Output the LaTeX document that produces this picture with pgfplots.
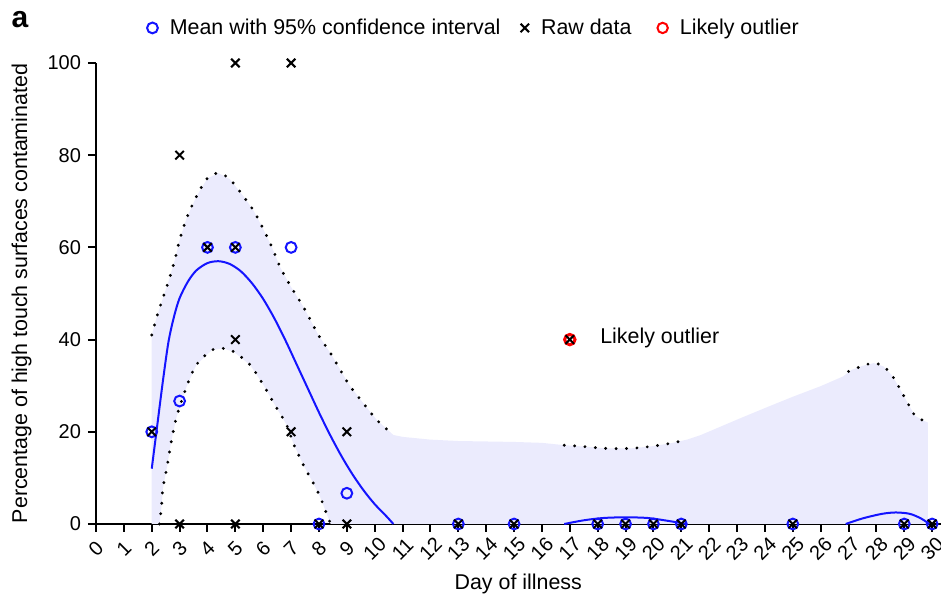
\documentclass[border=0pt]{standalone}
\usepackage{fontspec}
\setmainfont{Liberation Sans}
\usepackage{pgfplots}
\pgfplotsset{compat=1.18}
\definecolor{bandfill}{RGB}{235,235,253}
\definecolor{mblue}{RGB}{20,20,255}
\tikzset{dotbound/.style={black, line width=1.6pt, line cap=round, dash pattern=on 0pt off 5.2pt}}
\begin{document}
\begin{tikzpicture}
\begin{axis}[
 scale only axis, width=422.25pt, height=230.5pt,
 xmin=0, xmax=30.3, ymin=0, ymax=100,
 axis lines=left, axis line style={-, line width=1.4pt, black},
 xtick={0,...,30}, ytick={0,20,...,100},
 tick align=outside, major tick length=4pt,
 tick style={line width=1pt, black},
 /pgf/number format/assume math mode=true,
 tick label style={font=\fontsize{10}{11}\selectfont},
 xticklabel style={anchor=center, yshift=-8.5pt, rotate=45},
 xlabel={Day of illness},
 ylabel={Percentage of high touch surfaces contaminated},
 label style={font=\fontsize{10.7}{12}\selectfont},
 xlabel style={at={(axis description cs:0.5,-0.13)}, anchor=center},
 ylabel style={at={(axis description cs:-0.088,0.5)}, anchor=center},
 clip=false,
 legend style={at={(axis description cs:0.06,1.076)}, anchor=west, draw=none, fill=none, inner sep=0pt,
   font=\fontsize{10.7}{12}\selectfont, legend columns=-1,
   /tikz/every odd column/.append style={column sep=4pt},
   /tikz/every even column/.append style={column sep=8pt}},
 legend image code/.code={\draw[#1] plot coordinates {(0.15cm,0cm)};},
]
% confidence band fill
\addplot[draw=none, fill=bandfill, forget plot] coordinates {
 (2.0,41) (2.2,45.3) (2.4,49) (2.6,52.6) (2.83,57.3) (3.0,61.6) (3.25,66.3) (3.6,71) (4.0,75) (4.4,76.1)
 (4.8,74.8) (5.3,71) (5.65,68) (5.95,64.6) (6.3,60.2) (6.6,55.8) (6.96,51.8) (7.44,47.1) (7.98,41)
 (8.45,36.7) (9.05,30.5) (9.59,26.2) (10.07,22.6) (10.67,19.3) (11,18.9) (12,18.3) (13,18) (14,17.9)
 (15,17.8) (16,17.6) (16.8,17.1) (17.5,16.8) (18.3,16.4) (19.2,16.4) (20,16.9) (20.7,17.6) (21.2,18.3)
 (21.7,19.3) (22.4,21.1) (23.1,22.9) (24.1,25.4) (25,27.6) (26,29.9) (26.8,32) (27.1,33.4) (27.5,34.3)
 (27.9,34.9) (28.25,34.2) (28.55,32.3) (28.8,29.8) (29,27.6) (29.2,25.4) (29.4,23.4) (29.7,22.4) (29.85,22)
 (29.85,0) (8.42,0) (8.27,2.3) (8.04,5.9) (7.74,9.5) (7.44,12.8) (7.08,17.5) (6.84,21.5) (6.42,25.8)
 (6.0,30.2) (5.53,34.5) (4.93,37.4) (4.55,38.1) (4.15,37.7) (3.6,34.5) (3.25,29.8) (2.89,23.2) (2.71,18.2)
 (2.56,12.8) (2.4,7.7) (2.35,3.8) (2.28,0) (2.0,0)
};
% upper bound (dotted, visible parts)
\addplot[dotbound, smooth, forget plot] coordinates {
 (2.0,41) (2.2,45.3) (2.4,49) (2.6,52.6) (2.83,57.3) (3.0,61.6) (3.25,66.3) (3.6,71) (4.0,75) (4.4,76.1)
 (4.8,74.8) (5.3,71) (5.65,68) (5.95,64.6) (6.3,60.2) (6.6,55.8) (6.96,51.8) (7.44,47.1) (7.98,41)
 (8.45,36.7) (9.05,30.5) (9.59,26.2) (10.07,22.6) (10.67,19.3)
};
\addplot[dotbound, smooth, forget plot] coordinates {
 (16.8,17.1) (17.5,16.8) (18.3,16.4) (19.2,16.4) (20,16.9) (20.7,17.6) (21.2,18.3)
};
\addplot[dotbound, smooth, forget plot] coordinates {
 (27.0,33.1) (27.5,34.3) (27.9,34.9) (28.25,34.2) (28.55,32.3) (28.8,29.8) (29,27.6) (29.2,25.4) (29.4,23.4) (29.7,22.4)
};
% lower bound
\addplot[dotbound, smooth, forget plot] coordinates {
 (2.28,0) (2.35,3.8) (2.4,7.7) (2.56,12.8) (2.71,18.2) (2.89,23.2) (3.25,29.8) (3.6,34.5) (4.15,37.7)
 (4.55,38.1) (4.93,37.4) (5.53,34.5) (6.0,30.2) (6.42,25.8) (6.84,21.5) (7.08,17.5) (7.44,12.8)
 (7.74,9.5) (8.04,5.9) (8.27,2.3) (8.42,0)
};
% fitted curve
\addplot[mblue, line width=1pt, smooth, forget plot] coordinates {
 (2.0,12) (2.2,21.5) (2.4,31) (2.6,39.5) (2.8,45) (3.0,49) (3.3,52.6) (3.6,55) (4.0,56.6) (4.4,57)
 (4.8,56.4) (5.2,54.8) (5.6,52.2) (6.0,48.8) (6.4,44.6) (6.8,39.8) (7.2,34.6) (7.6,29.4) (8.0,24.2)
 (8.4,19.3) (8.8,14.8) (9.2,10.8) (9.6,7.3) (10.0,4.3) (10.4,1.8) (10.67,0)
};
\addplot[mblue, line width=1pt, smooth, forget plot] coordinates {
 (16.8,0) (17.5,0.8) (18.2,1.3) (19,1.45) (19.8,1.3) (20.5,0.7) (21.2,0)
};
\addplot[mblue, line width=1pt, smooth, forget plot] coordinates {
 (26.9,0) (27.5,1.2) (28.2,2.2) (28.7,2.5) (29.2,2.2) (29.6,1.2) (29.9,0)
};
% means
\addplot[only marks, mark=o, mark size=2.7pt, mblue, line width=1pt] coordinates {
 (2,20) (3,26.67) (4,60) (5,60) (7,60) (8,0) (9,6.67) (13,0) (15,0) (18,0) (19,0) (20,0) (21,0) (25,0) (29,0) (30,0)
};
\addlegendentry{Mean with 95\% confidence interval}
% outlier circle
\addplot[only marks, mark=o, mark size=2.6pt, red, line width=1.5pt, forget plot] coordinates {(17,40)};
% raw data
\addplot[only marks, mark=x, mark size=3pt, black, line width=1pt] coordinates {
 (2,20) (3,80) (3,0) (4,60) (5,100) (5,60) (5,40) (5,0) (7,100) (7,20) (8,0) (9,20) (9,0)
 (13,0) (15,0) (17,40) (18,0) (19,0) (20,0) (21,0) (25,0) (29,0) (30,0)
};
\addlegendentry{Raw data\kern3pt}
\addlegendimage{only marks, mark=o, mark size=2.6pt, red, line width=1pt}
\addlegendentry{Likely outlier}
\node[anchor=west, inner sep=0pt, font=\fontsize{10.7}{12}\selectfont] at (axis cs:18.08,40.3) {Likely outlier};
\node[font=\fontsize{15}{16}\selectfont\bfseries] at (axis description cs:-0.09,1.094) {a};
\coordinate (O) at (axis cs:0,0);
\end{axis}
\pgfresetboundingbox
\path[use as bounding box] ([xshift=-48pt,yshift=262pt]O) rectangle ([xshift=422.5pt,yshift=-39.5pt]O);
\end{tikzpicture}
\end{document}
